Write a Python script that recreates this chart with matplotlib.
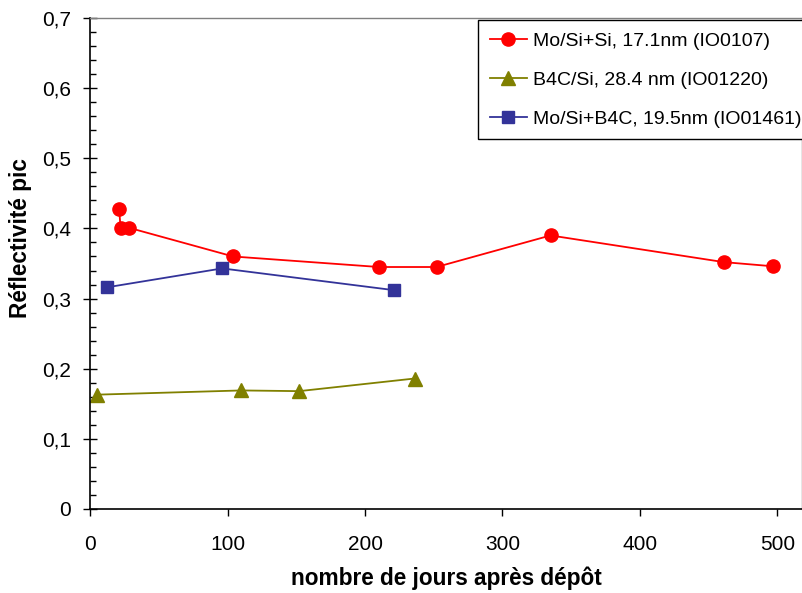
import matplotlib.pyplot as plt
from matplotlib.ticker import FuncFormatter, MultipleLocator

plt.rcParams["font.family"] = ["Liberation Sans", "DejaVu Sans"]

# Mo/Si+Si, 17.1nm (IO0107)
mosi_days = [21, 22, 28, 104, 210, 252, 335, 461, 497]
mosi_refl = [0.428, 0.401, 0.401, 0.360, 0.345, 0.345, 0.390, 0.352, 0.346]

# B4C/Si, 28.4 nm (IO01220)
b4c_days = [5, 110, 152, 236]
b4c_refl = [0.163, 0.169, 0.168, 0.186]

# Mo/Si+B4C, 19.5nm (IO01461)
mob4c_days = [12, 96, 221]
mob4c_refl = [0.316, 0.343, 0.312]

fig = plt.figure(figsize=(8.02, 5.93), dpi=100)
ax = fig.add_axes([0.1126, 0.1417, 0.8874, 0.8279])

ax.plot(mosi_days, mosi_refl, color="#FF0000", lw=1.3, marker="o", ms=9.5,
        label="Mo/Si+Si, 17.1nm (IO0107)")
ax.plot(b4c_days, b4c_refl, color="#808000", lw=1.3, marker="^", ms=10,
        label="B4C/Si, 28.4 nm (IO01220)")
ax.plot(mob4c_days, mob4c_refl, color="#333399", lw=1.3, marker="s", ms=8.5,
        label="Mo/Si+B4C, 19.5nm (IO01461)")

ax.set_xlim(0, 518)
ax.set_ylim(0, 0.7)
ax.xaxis.set_major_locator(MultipleLocator(100))
ax.yaxis.set_major_locator(MultipleLocator(0.1))
ax.yaxis.set_minor_locator(MultipleLocator(0.02))
ax.yaxis.set_major_formatter(FuncFormatter(lambda v, p: "0" if abs(v) < 1e-9 else f"{v:.1f}".replace(".", ",")))

ax.tick_params(axis="both", which="major", width=1, labelsize=15, colors="black")
ax.tick_params(axis="y", which="major", direction="inout", length=10, pad=9)
ax.tick_params(axis="y", which="minor", direction="in", length=4.5, width=1)
ax.tick_params(axis="x", which="major", direction="out", length=5, pad=14)

for s in ["left", "bottom"]:
    ax.spines[s].set_color("black")
    ax.spines[s].set_linewidth(1.2)
for s in ["top", "right"]:
    ax.spines[s].set_color("#808080")
    ax.spines[s].set_linewidth(1)

ax.set_xlabel("nombre de jours après dépôt", fontsize=16.3, fontweight="bold")
ax.set_ylabel("Réflectivité pic", fontsize=16.3, fontweight="bold")
ax.xaxis.set_label_coords(0.501, -0.1405)
ax.yaxis.set_label_coords(-0.0975, 0.552)
ax.yaxis.label.set_verticalalignment("center")
ax.xaxis.label.set_verticalalignment("center")

leg = ax.legend(loc="upper left", bbox_to_anchor=(0.545, 0.995), fontsize=14,
                frameon=True, fancybox=False, edgecolor="black", framealpha=1,
                labelspacing=1.1, handlelength=1.9, handletextpad=0.3,
                borderpad=0.6, borderaxespad=0)
leg.get_frame().set_linewidth(1)

fig.savefig("out.png", dpi=100)
